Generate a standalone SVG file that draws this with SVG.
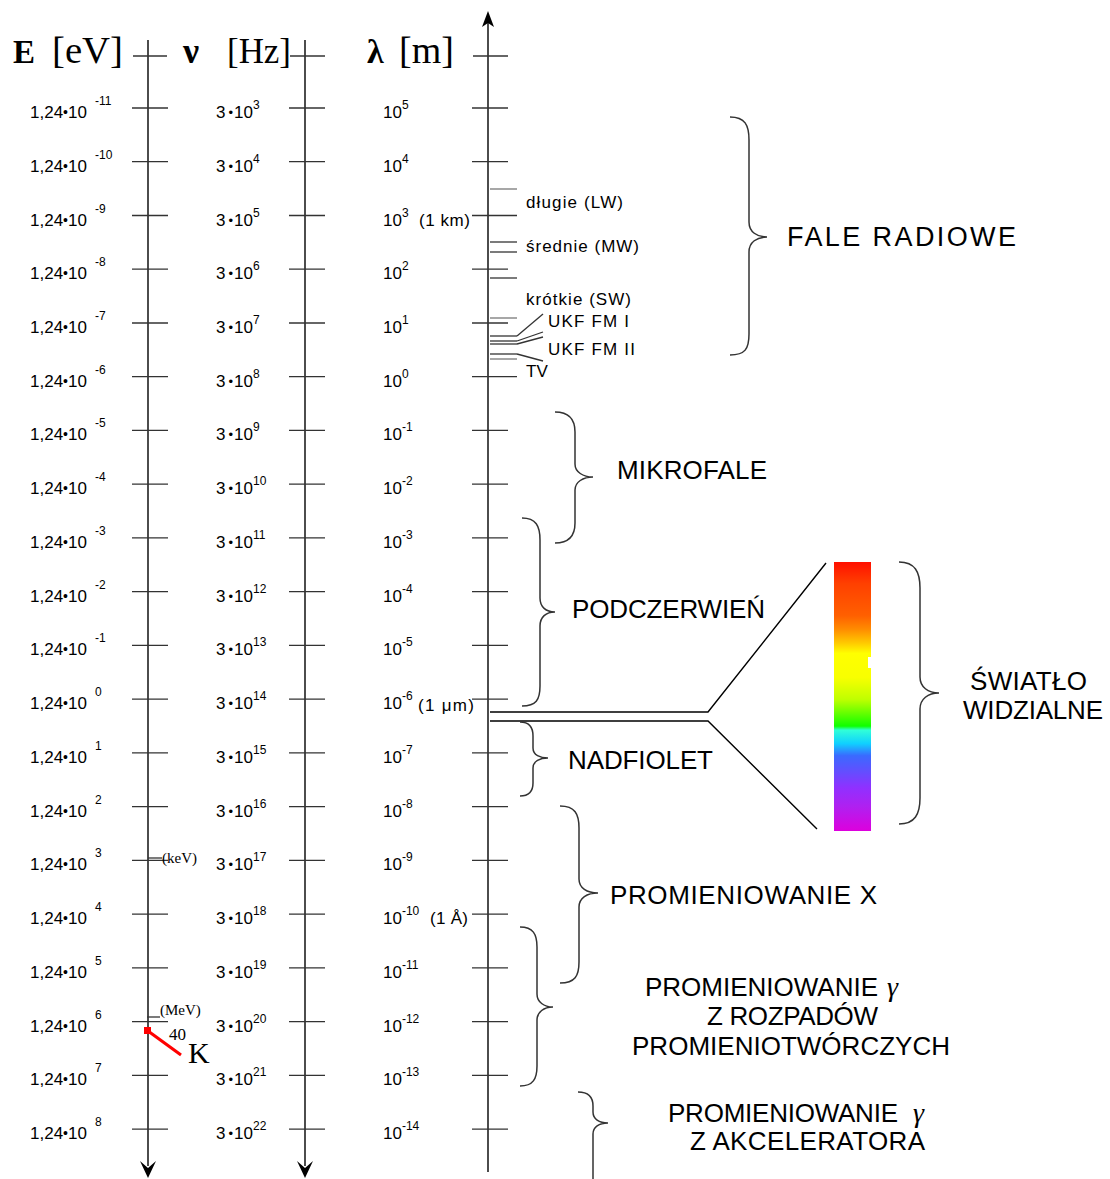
<svg xmlns="http://www.w3.org/2000/svg" width="1110" height="1179" viewBox="0 0 1110 1179">
<style>
.ax{stroke:#000;stroke-width:1.4;fill:none}
.tk{stroke:#333;stroke-width:1.3;fill:none}
.gt{stroke:#777;stroke-width:1.3;fill:none}
.br{stroke:#333;stroke-width:1.5;fill:none}
.lb{font-family:"Liberation Sans",Arial,sans-serif;font-size:17px;fill:#000}
.sp{font-family:"Liberation Sans",Arial,sans-serif;font-size:12px;fill:#000}
.rd{font-family:"Liberation Sans",Arial,sans-serif;font-size:17px;fill:#000}
.big{font-family:"Liberation Sans",Arial,sans-serif;font-size:26px;fill:#000}
.hd{font-family:"Liberation Serif","Times New Roman",serif;fill:#000}
.gm{font-family:"Liberation Serif","Times New Roman",serif;font-style:italic;font-size:28px;fill:#000}
</style>
<defs>
<linearGradient id="spec" x1="0" y1="0" x2="0" y2="1">
<stop offset="0" stop-color="#ff1000"/>
<stop offset="0.08" stop-color="#ff4000"/>
<stop offset="0.2" stop-color="#ff6000"/>
<stop offset="0.25" stop-color="#ff8c00"/>
<stop offset="0.3" stop-color="#ffc800"/>
<stop offset="0.34" stop-color="#ffff00"/>
<stop offset="0.43" stop-color="#f8ff00"/>
<stop offset="0.51" stop-color="#c0ff00"/>
<stop offset="0.61" stop-color="#10ff00"/>
<stop offset="0.625" stop-color="#30ffd8"/>
<stop offset="0.675" stop-color="#10d0ff"/>
<stop offset="0.72" stop-color="#3a6aff"/>
<stop offset="0.775" stop-color="#6050ff"/>
<stop offset="0.84" stop-color="#9030ff"/>
<stop offset="0.91" stop-color="#b020f0"/>
<stop offset="1" stop-color="#dd00dd"/>
</linearGradient>
</defs>
<rect width="1110" height="1179" fill="#fff"/>

<!-- headers -->
<g id="headers">
<text class="hd" x="13" y="63" font-size="33" font-weight="bold">E</text>
<text class="hd" x="52" y="63" font-size="37" textLength="71" lengthAdjust="spacingAndGlyphs">[eV]</text>
<text class="hd" x="183" y="63" font-size="36" font-weight="bold">ν</text>
<text class="hd" x="227" y="63" font-size="36" textLength="64" lengthAdjust="spacingAndGlyphs">[Hz]</text>
<text class="hd" x="367" y="63" font-size="34" font-weight="bold">λ</text>
<text class="hd" x="399" y="63" font-size="38">[m]</text>
</g>

<!-- axes -->
<g id="axes">
<line class="ax" x1="148" y1="40" x2="148" y2="1166"/>
<path d="M148,1178 L140,1161 L148,1168 L156,1161 Z" fill="#000"/>
<line class="ax" x1="305" y1="40" x2="305" y2="1166"/>
<path d="M305,1178 L297,1161 L305,1168 L313,1161 Z" fill="#000"/>
<line class="ax" x1="488" y1="22" x2="488" y2="1172"/>
<path d="M488,11 L482,27 L488,23 L494,27 Z" fill="#000"/>
</g>

<!-- ticks -->
<g id="ticks" class="tk">
<line x1="133" y1="56" x2="167" y2="56"/><line x1="290" y1="56" x2="325" y2="56"/><line x1="473" y1="56" x2="508" y2="56"/>
<line x1="132" y1="108" x2="168" y2="108"/><line x1="289" y1="108" x2="325" y2="108"/><line x1="472" y1="108" x2="508" y2="108"/>
<line x1="132" y1="161.7" x2="168" y2="161.7"/><line x1="289" y1="161.7" x2="325" y2="161.7"/><line x1="472" y1="161.7" x2="508" y2="161.7"/>
<line x1="132" y1="215.5" x2="168" y2="215.5"/><line x1="289" y1="215.5" x2="325" y2="215.5"/><line x1="472" y1="215.5" x2="517" y2="215.5"/>
<line x1="132" y1="269.2" x2="168" y2="269.2"/><line x1="289" y1="269.2" x2="325" y2="269.2"/><line x1="472" y1="269.2" x2="508" y2="269.2"/>
<line x1="132" y1="323" x2="168" y2="323"/><line x1="289" y1="323" x2="325" y2="323"/><line x1="472" y1="323" x2="508" y2="323"/>
<line x1="132" y1="376.7" x2="168" y2="376.7"/><line x1="289" y1="376.7" x2="325" y2="376.7"/><line x1="472" y1="376.7" x2="517" y2="376.7"/>
<line x1="132" y1="430.4" x2="168" y2="430.4"/><line x1="289" y1="430.4" x2="325" y2="430.4"/><line x1="472" y1="430.4" x2="508" y2="430.4"/>
<line x1="132" y1="484.2" x2="168" y2="484.2"/><line x1="289" y1="484.2" x2="325" y2="484.2"/><line x1="472" y1="484.2" x2="508" y2="484.2"/>
<line x1="132" y1="537.9" x2="168" y2="537.9"/><line x1="289" y1="537.9" x2="325" y2="537.9"/><line x1="472" y1="537.9" x2="508" y2="537.9"/>
<line x1="132" y1="591.7" x2="168" y2="591.7"/><line x1="289" y1="591.7" x2="325" y2="591.7"/><line x1="472" y1="591.7" x2="508" y2="591.7"/>
<line x1="132" y1="645.4" x2="168" y2="645.4"/><line x1="289" y1="645.4" x2="325" y2="645.4"/><line x1="472" y1="645.4" x2="508" y2="645.4"/>
<line x1="132" y1="699.1" x2="168" y2="699.1"/><line x1="289" y1="699.1" x2="325" y2="699.1"/><line x1="472" y1="699.1" x2="508" y2="699.1"/>
<line x1="132" y1="752.9" x2="168" y2="752.9"/><line x1="289" y1="752.9" x2="325" y2="752.9"/><line x1="472" y1="752.9" x2="508" y2="752.9"/>
<line x1="132" y1="806.6" x2="168" y2="806.6"/><line x1="289" y1="806.6" x2="325" y2="806.6"/><line x1="472" y1="806.6" x2="508" y2="806.6"/>
<line x1="132" y1="860.4" x2="168" y2="860.4"/><line x1="289" y1="860.4" x2="325" y2="860.4"/><line x1="472" y1="860.4" x2="508" y2="860.4"/>
<line x1="132" y1="914.1" x2="168" y2="914.1"/><line x1="289" y1="914.1" x2="325" y2="914.1"/><line x1="472" y1="914.1" x2="508" y2="914.1"/>
<line x1="132" y1="967.8" x2="168" y2="967.8"/><line x1="289" y1="967.8" x2="325" y2="967.8"/><line x1="472" y1="967.8" x2="508" y2="967.8"/>
<line x1="132" y1="1021.6" x2="168" y2="1021.6"/><line x1="289" y1="1021.6" x2="325" y2="1021.6"/><line x1="472" y1="1021.6" x2="508" y2="1021.6"/>
<line x1="132" y1="1075.3" x2="168" y2="1075.3"/><line x1="289" y1="1075.3" x2="325" y2="1075.3"/><line x1="472" y1="1075.3" x2="508" y2="1075.3"/>
<line x1="132" y1="1129.1" x2="168" y2="1129.1"/><line x1="289" y1="1129.1" x2="325" y2="1129.1"/><line x1="472" y1="1129.1" x2="508" y2="1129.1"/>
<!-- extra markers -->
<line x1="148" y1="858" x2="162" y2="858"/>
<line x1="147" y1="1017" x2="160" y2="1017"/>
</g>

<!-- E labels -->
<g id="e-labels">
<g class="lb">
<text x="30" y="118">1,24<tspan font-size="14" dy="-1">•</tspan><tspan dy="1">10</tspan></text>
<text x="30" y="171.7">1,24<tspan font-size="14" dy="-1">•</tspan><tspan dy="1">10</tspan></text>
<text x="30" y="225.5">1,24<tspan font-size="14" dy="-1">•</tspan><tspan dy="1">10</tspan></text>
<text x="30" y="279.2">1,24<tspan font-size="14" dy="-1">•</tspan><tspan dy="1">10</tspan></text>
<text x="30" y="333">1,24<tspan font-size="14" dy="-1">•</tspan><tspan dy="1">10</tspan></text>
<text x="30" y="386.7">1,24<tspan font-size="14" dy="-1">•</tspan><tspan dy="1">10</tspan></text>
<text x="30" y="440.4">1,24<tspan font-size="14" dy="-1">•</tspan><tspan dy="1">10</tspan></text>
<text x="30" y="494.2">1,24<tspan font-size="14" dy="-1">•</tspan><tspan dy="1">10</tspan></text>
<text x="30" y="547.9">1,24<tspan font-size="14" dy="-1">•</tspan><tspan dy="1">10</tspan></text>
<text x="30" y="601.7">1,24<tspan font-size="14" dy="-1">•</tspan><tspan dy="1">10</tspan></text>
<text x="30" y="655.4">1,24<tspan font-size="14" dy="-1">•</tspan><tspan dy="1">10</tspan></text>
<text x="30" y="709.1">1,24<tspan font-size="14" dy="-1">•</tspan><tspan dy="1">10</tspan></text>
<text x="30" y="762.9">1,24<tspan font-size="14" dy="-1">•</tspan><tspan dy="1">10</tspan></text>
<text x="30" y="816.6">1,24<tspan font-size="14" dy="-1">•</tspan><tspan dy="1">10</tspan></text>
<text x="30" y="870.4">1,24<tspan font-size="14" dy="-1">•</tspan><tspan dy="1">10</tspan></text>
<text x="30" y="924.1">1,24<tspan font-size="14" dy="-1">•</tspan><tspan dy="1">10</tspan></text>
<text x="30" y="977.8">1,24<tspan font-size="14" dy="-1">•</tspan><tspan dy="1">10</tspan></text>
<text x="30" y="1031.6">1,24<tspan font-size="14" dy="-1">•</tspan><tspan dy="1">10</tspan></text>
<text x="30" y="1085.3">1,24<tspan font-size="14" dy="-1">•</tspan><tspan dy="1">10</tspan></text>
<text x="30" y="1139.1">1,24<tspan font-size="14" dy="-1">•</tspan><tspan dy="1">10</tspan></text>
</g>
<g class="sp">
<text x="95" y="105">-11</text>
<text x="95" y="158.7">-10</text>
<text x="95" y="212.5">-9</text>
<text x="95" y="266.2">-8</text>
<text x="95" y="320">-7</text>
<text x="95" y="373.7">-6</text>
<text x="95" y="427.4">-5</text>
<text x="95" y="481.2">-4</text>
<text x="95" y="534.9">-3</text>
<text x="95" y="588.7">-2</text>
<text x="95" y="642.4">-1</text>
<text x="95" y="696.1">0</text>
<text x="95" y="749.9">1</text>
<text x="95" y="803.6">2</text>
<text x="95" y="857.4">3</text>
<text x="95" y="911.1">4</text>
<text x="95" y="964.8">5</text>
<text x="95" y="1018.6">6</text>
<text x="95" y="1072.3">7</text>
<text x="95" y="1126.1">8</text>
</g>
<text class="hd" x="162" y="863" font-size="15">(keV)</text>
<text class="hd" x="160" y="1015" font-size="15">(MeV)</text>
</g>

<!-- K-40 marker -->
<g id="k40">
<line x1="148" y1="1031" x2="181" y2="1055" stroke="#ff0000" stroke-width="3"/>
<rect x="144" y="1027" width="7" height="7" fill="#ff0000"/>
<text class="hd" x="169" y="1040" font-size="17">40</text>
<text class="hd" x="188" y="1063" font-size="30">K</text>
</g>

<!-- nu labels -->
<g id="nu-labels" class="lb">
<text x="216" y="118">3<tspan font-size="13" dx="3" dy="-1">•</tspan><tspan dx="1" dy="1">10</tspan><tspan font-size="12" dy="-9">3</tspan></text>
<text x="216" y="171.7">3<tspan font-size="13" dx="3" dy="-1">•</tspan><tspan dx="1" dy="1">10</tspan><tspan font-size="12" dy="-9">4</tspan></text>
<text x="216" y="225.5">3<tspan font-size="13" dx="3" dy="-1">•</tspan><tspan dx="1" dy="1">10</tspan><tspan font-size="12" dy="-9">5</tspan></text>
<text x="216" y="279.2">3<tspan font-size="13" dx="3" dy="-1">•</tspan><tspan dx="1" dy="1">10</tspan><tspan font-size="12" dy="-9">6</tspan></text>
<text x="216" y="333">3<tspan font-size="13" dx="3" dy="-1">•</tspan><tspan dx="1" dy="1">10</tspan><tspan font-size="12" dy="-9">7</tspan></text>
<text x="216" y="386.7">3<tspan font-size="13" dx="3" dy="-1">•</tspan><tspan dx="1" dy="1">10</tspan><tspan font-size="12" dy="-9">8</tspan></text>
<text x="216" y="440.4">3<tspan font-size="13" dx="3" dy="-1">•</tspan><tspan dx="1" dy="1">10</tspan><tspan font-size="12" dy="-9">9</tspan></text>
<text x="216" y="494.2">3<tspan font-size="13" dx="3" dy="-1">•</tspan><tspan dx="1" dy="1">10</tspan><tspan font-size="12" dy="-9">10</tspan></text>
<text x="216" y="547.9">3<tspan font-size="13" dx="3" dy="-1">•</tspan><tspan dx="1" dy="1">10</tspan><tspan font-size="12" dy="-9">11</tspan></text>
<text x="216" y="601.7">3<tspan font-size="13" dx="3" dy="-1">•</tspan><tspan dx="1" dy="1">10</tspan><tspan font-size="12" dy="-9">12</tspan></text>
<text x="216" y="655.4">3<tspan font-size="13" dx="3" dy="-1">•</tspan><tspan dx="1" dy="1">10</tspan><tspan font-size="12" dy="-9">13</tspan></text>
<text x="216" y="709.1">3<tspan font-size="13" dx="3" dy="-1">•</tspan><tspan dx="1" dy="1">10</tspan><tspan font-size="12" dy="-9">14</tspan></text>
<text x="216" y="762.9">3<tspan font-size="13" dx="3" dy="-1">•</tspan><tspan dx="1" dy="1">10</tspan><tspan font-size="12" dy="-9">15</tspan></text>
<text x="216" y="816.6">3<tspan font-size="13" dx="3" dy="-1">•</tspan><tspan dx="1" dy="1">10</tspan><tspan font-size="12" dy="-9">16</tspan></text>
<text x="216" y="870.4">3<tspan font-size="13" dx="3" dy="-1">•</tspan><tspan dx="1" dy="1">10</tspan><tspan font-size="12" dy="-9">17</tspan></text>
<text x="216" y="924.1">3<tspan font-size="13" dx="3" dy="-1">•</tspan><tspan dx="1" dy="1">10</tspan><tspan font-size="12" dy="-9">18</tspan></text>
<text x="216" y="977.8">3<tspan font-size="13" dx="3" dy="-1">•</tspan><tspan dx="1" dy="1">10</tspan><tspan font-size="12" dy="-9">19</tspan></text>
<text x="216" y="1031.6">3<tspan font-size="13" dx="3" dy="-1">•</tspan><tspan dx="1" dy="1">10</tspan><tspan font-size="12" dy="-9">20</tspan></text>
<text x="216" y="1085.3">3<tspan font-size="13" dx="3" dy="-1">•</tspan><tspan dx="1" dy="1">10</tspan><tspan font-size="12" dy="-9">21</tspan></text>
<text x="216" y="1139.1">3<tspan font-size="13" dx="3" dy="-1">•</tspan><tspan dx="1" dy="1">10</tspan><tspan font-size="12" dy="-9">22</tspan></text>
</g>

<!-- lambda labels -->
<g id="lambda-labels" class="lb">
<text x="383" y="118">10<tspan font-size="12" dy="-9">5</tspan></text>
<text x="383" y="171.7">10<tspan font-size="12" dy="-9">4</tspan></text>
<text x="383" y="225.5">10<tspan font-size="12" dy="-9">3</tspan></text>
<text x="383" y="279.2">10<tspan font-size="12" dy="-9">2</tspan></text>
<text x="383" y="333">10<tspan font-size="12" dy="-9">1</tspan></text>
<text x="383" y="386.7">10<tspan font-size="12" dy="-9">0</tspan></text>
<text x="383" y="440.4">10<tspan font-size="12" dy="-9">-1</tspan></text>
<text x="383" y="494.2">10<tspan font-size="12" dy="-9">-2</tspan></text>
<text x="383" y="547.9">10<tspan font-size="12" dy="-9">-3</tspan></text>
<text x="383" y="601.7">10<tspan font-size="12" dy="-9">-4</tspan></text>
<text x="383" y="655.4">10<tspan font-size="12" dy="-9">-5</tspan></text>
<text x="383" y="709.1">10<tspan font-size="12" dy="-9">-6</tspan></text>
<text x="383" y="762.9">10<tspan font-size="12" dy="-9">-7</tspan></text>
<text x="383" y="816.6">10<tspan font-size="12" dy="-9">-8</tspan></text>
<text x="383" y="870.4">10<tspan font-size="12" dy="-9">-9</tspan></text>
<text x="383" y="924.1">10<tspan font-size="12" dy="-9">-10</tspan></text>
<text x="383" y="977.8">10<tspan font-size="12" dy="-9">-11</tspan></text>
<text x="383" y="1031.6">10<tspan font-size="12" dy="-9">-12</tspan></text>
<text x="383" y="1085.3">10<tspan font-size="12" dy="-9">-13</tspan></text>
<text x="383" y="1139.1">10<tspan font-size="12" dy="-9">-14</tspan></text>
<text class="rd" x="419" y="225.5" textLength="51" lengthAdjust="spacing">(1 km)</text>
<text class="rd" x="418" y="711" textLength="56" lengthAdjust="spacing">(1  μm)</text>
<text class="rd" x="430" y="924.1" textLength="38" lengthAdjust="spacing">(1 Å)</text>
</g>

<!-- radio sub-bands -->
<g id="radio-bands">
<g class="tk">
<line class="gt" x1="490" y1="189" x2="517" y2="189"/>
<line x1="490" y1="242" x2="517" y2="242"/>
<line x1="490" y1="252" x2="517" y2="252"/>
<line x1="490" y1="278" x2="517" y2="278"/>
<line class="gt" x1="490" y1="318" x2="517" y2="318"/>
<line x1="490" y1="336" x2="517" y2="336"/>
<line x1="490" y1="341" x2="517" y2="341"/>
<line x1="490" y1="344" x2="517" y2="344"/>
<line x1="490" y1="354" x2="517" y2="354"/>
<line class="gt" x1="490" y1="359" x2="517" y2="359"/>
<line x1="517" y1="336" x2="543" y2="314"/>
<line x1="517" y1="341" x2="543" y2="332"/>
<line x1="517" y1="344" x2="543" y2="337"/>
<line x1="517" y1="354" x2="543" y2="361"/>
</g>
<g class="rd">
<text x="526" y="208" textLength="97" lengthAdjust="spacing">długie  (LW)</text>
<text x="526" y="252" textLength="113" lengthAdjust="spacing">średnie  (MW)</text>
<text x="526" y="305" textLength="105" lengthAdjust="spacing">krótkie  (SW)</text>
<text x="548" y="327" textLength="81" lengthAdjust="spacing">UKF  FM I</text>
<text x="548" y="355" textLength="87" lengthAdjust="spacing">UKF  FM II</text>
<text x="526" y="377">TV</text>
</g>
</g>

<!-- visible spectrum -->
<g id="spectrum">
<rect x="834" y="562" width="37" height="269" fill="url(#spec)"/>
<rect x="868" y="657" width="4" height="11" fill="#fff"/>
<polyline class="ax" points="490,712 708,712 826,563" stroke-width="1.6"/>
<polyline class="ax" points="490,721 708,721 817,829" stroke-width="1.6"/>
</g>

<!-- braces -->
<g id="braces" class="br">
<path d="M730,117 C745,117 749,125 749,140 L749,222 C749,232 757,237 767,237 C757,237 749,242 749,252 L749,334 C749,349 745,355 730,355"/>
<path d="M555,412 C570,412 575,420 575,432 L575,464 C575,472 583,477 593,477 C583,477 575,482 575,490 L575,523 C575,535 570,543 555,543"/>
<path d="M522,518 C536,518 540,526 540,540 L540,598 C540,607 546,612 555,612 C546,612 540,617 540,626 L540,686 C540,700 536,706 522,706"/>
<path d="M899,562 C915,562 920,572 920,588 L920,677 C920,687 928,693 939,693 C928,693 920,699 920,709 L920,798 C920,814 915,824 899,824"/>
<path d="M520,722 C529,722 533,727 533,736 L533,748 C533,755 540,758 548,758 C540,758 533,761 533,768 L533,783 C533,791 529,796 520,796"/>
<path d="M560,806 C575,806 579,814 579,828 L579,879 C579,888 587,893 598,893 C587,893 579,898 579,907 L579,962 C579,976 575,983 560,983"/>
<path d="M520,927 C533,927 537,934 537,947 L537,994 C537,1002 544,1007 553,1007 C544,1007 537,1012 537,1020 L537,1066 C537,1079 533,1086 520,1086"/>
<path d="M578,1092 C589,1092 593,1098 593,1106 L593,1112 C593,1119 599,1123 608,1123 C599,1123 593,1127 593,1134 L593,1180"/>
</g>

<!-- region labels -->
<g id="regions" class="big">
<text x="787" y="246" font-size="27" textLength="229" lengthAdjust="spacing">FALE  RADIOWE</text>
<text x="617" y="479" textLength="150" lengthAdjust="spacing">MIKROFALE</text>
<text x="572" y="618" textLength="193" lengthAdjust="spacing">PODCZERWIEŃ</text>
<text x="970" y="690" textLength="117" lengthAdjust="spacing">ŚWIATŁO</text>
<text x="963" y="719" textLength="140" lengthAdjust="spacing">WIDZIALNE</text>
<text x="568" y="769" textLength="145" lengthAdjust="spacing">NADFIOLET</text>
<text x="610" y="904" textLength="267" lengthAdjust="spacing">PROMIENIOWANIE  X</text>
<text x="645" y="996" textLength="233" lengthAdjust="spacing">PROMIENIOWANIE</text>
<text class="gm" x="887" y="996">γ</text>
<text x="707" y="1025" textLength="171" lengthAdjust="spacing">Z ROZPADÓW</text>
<text x="632" y="1055" textLength="318" lengthAdjust="spacing">PROMIENIOTWÓRCZYCH</text>
<text x="668" y="1122" textLength="230" lengthAdjust="spacing">PROMIENIOWANIE</text>
<text class="gm" x="913" y="1122">γ</text>
<text x="690" y="1150" textLength="235" lengthAdjust="spacing">Z AKCELERATORA</text>
</g>
</svg>
